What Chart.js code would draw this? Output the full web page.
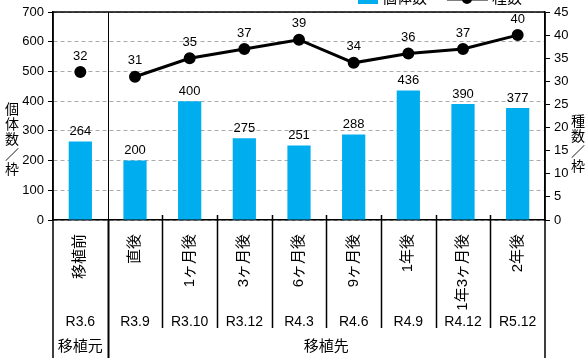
<!DOCTYPE html>
<html>
<head>
<meta charset="utf-8">
<script src="https://cdn.jsdelivr.net/npm/chart.js@4"></script>
<style>
  html, body { margin: 0; padding: 0; background: #fff; }
  #wrap { width: 587px; height: 358px; }
</style>
</head>
<body>
<div id="wrap"><canvas id="chart" width="587" height="358"></canvas></div>
<script>
// DATA
const categories = ["移植前", "直後", "1ヶ月後", "3ヶ月後", "6ヶ月後", "9ヶ月後", "1年後", "1年3ヶ月後", "2年後"];
const dates = ["R3.6", "R3.9", "R3.10", "R3.12", "R4.3", "R4.6", "R4.9", "R4.12", "R5.12"];
const groupNames = ["移植元", "移植先"];
const groupOf = [0, 1, 1, 1, 1, 1, 1, 1, 1];
const individuals = [264, 200, 400, 275, 251, 288, 436, 390, 377];
const species = [32, 31, 35, 37, 39, 34, 36, 37, 40];
const seriesNames = ["個体数", "種数"];
const leftTitle = ["個", "体", "数", "／", "枠"];
const rightTitle = ["種", "数", "／", "枠"];

const NUM = "'Liberation Sans', Arial, 'Noto Sans CJK JP', sans-serif";
const JP = "'Noto Sans CJK JP', sans-serif";
const BLUE = "#00AEEF";

// extra drawing: value labels, frame, bottom rows, titles, legend
const overlay = {
  id: "overlay",
  afterDraw(chart) {
    const ctx = chart.ctx;
    const a = chart.chartArea;
    const x = chart.scales.x;
    const H = chart.height;
    ctx.save();
    ctx.fillStyle = "#000";
    ctx.textAlign = "center";
    ctx.textBaseline = "middle";

    // value labels (dataset 0 = line, dataset 1 = bars)
    ctx.font = "13px " + NUM;
    chart.getDatasetMeta(1).data.forEach((el, i) => {
      ctx.fillText(individuals[i], el.x, el.y - 10);
    });
    chart.getDatasetMeta(0).data.forEach((el, i) => {
      ctx.fillText(species[i], el.x, el.y - 16);
    });

    // frame
    ctx.strokeStyle = "#000";
    ctx.lineWidth = 1.5;
    ctx.beginPath();
    ctx.moveTo(a.left, a.top); ctx.lineTo(a.right, a.top);
    ctx.moveTo(a.left, a.top); ctx.lineTo(a.left, H);
    ctx.moveTo(a.right, a.top); ctx.lineTo(a.right, H);
    ctx.stroke();

    const edge = i => (x.getPixelForValue(i) + x.getPixelForValue(i + 1)) / 2;
    // group separator
    const gx = Math.round(edge(0)) + 0.5;
    ctx.lineWidth = 1;
    ctx.beginPath(); ctx.moveTo(gx, a.top); ctx.lineTo(gx, a.bottom); ctx.stroke();
    ctx.lineWidth = 2;
    ctx.beginPath(); ctx.moveTo(gx, a.bottom); ctx.lineTo(gx, H); ctx.stroke();
    // category separators under the axis
    ctx.lineWidth = 1.5;
    ctx.beginPath();
    for (let i = 1; i < categories.length - 1; i++) {
      const bx = Math.round(edge(i)) + 0.5;
      ctx.moveTo(bx, a.bottom - 5); ctx.lineTo(bx, a.bottom + 108);
    }
    ctx.stroke();

    // date row
    ctx.font = "14px " + NUM;
    dates.forEach((d, i) => ctx.fillText(d, x.getPixelForValue(i), a.bottom + 102));

    // group row
    ctx.font = "15px " + JP;
    groupNames.forEach((g, k) => {
      const idx = groupOf.map((v, i) => v === k ? i : -1).filter(i => i >= 0);
      const cx = (x.getPixelForValue(idx[0]) + x.getPixelForValue(idx[idx.length - 1])) / 2;
      ctx.fillText(g, cx, a.bottom + 125);
    });

    // axis titles (stacked characters)
    ctx.font = "14px " + JP;
    leftTitle.forEach((c, i) => ctx.fillText(c, 12, 109 + i * 15));
    rightTitle.forEach((c, i) => ctx.fillText(c, 578, 121 + i * 15));

    // legend (cut by the top edge)
    ctx.fillStyle = BLUE;
    ctx.fillRect(358, -4, 20, 8);
    ctx.fillStyle = "#000";
    ctx.textAlign = "left";
    ctx.font = "15px " + JP;
    ctx.fillText(seriesNames[0], 382, -3);
    ctx.lineWidth = 3;
    ctx.beginPath(); ctx.moveTo(447, -1); ctx.lineTo(488, -1); ctx.stroke();
    ctx.beginPath(); ctx.arc(467, -1, 5, 0, Math.PI * 2); ctx.fill();
    ctx.fillText(seriesNames[1], 492, -3);
    ctx.restore();
  }
};

new Chart(document.getElementById("chart"), {
  data: {
    labels: categories,
    datasets: [
      {
        type: "line",
        label: seriesNames[1],
        data: species,
        yAxisID: "y1",
        order: 0,
        borderColor: "#000",
        borderWidth: 3,
        pointRadius: 4.5,
        pointBackgroundColor: "#000",
        pointBorderColor: "#000",
        segment: {
          borderColor: c => c.p0DataIndex === 0 ? "rgba(0,0,0,0)" : "#000"
        }
      },
      {
        type: "bar",
        label: seriesNames[0],
        data: individuals,
        yAxisID: "y",
        order: 1,
        backgroundColor: BLUE,
        categoryPercentage: 0.5,
        barPercentage: 0.85
      }
    ]
  },
  options: {
    responsive: false,
    devicePixelRatio: 1,
    animation: false,
    layout: { padding: { top: 12, left: 0, right: 0, bottom: 0 } },
    plugins: { legend: { display: false }, tooltip: { enabled: false } },
    scales: {
      x: {
        offset: true,
        grid: { display: false },
        border: { display: true, color: "#000", width: 1.5 },
        ticks: {
          autoSkip: false,
          minRotation: 90,
          maxRotation: 90,
          padding: 6,
          color: "#000",
          font: { family: NUM, size: 15 }
        },
        afterFit: s => { s.height = 138; }
      },
      y: {
        position: "left",
        min: 0,
        max: 700,
        ticks: { stepSize: 100, padding: 4, color: "#000", font: { family: NUM, size: 13 } },
        grid: { color: "#aaa", lineWidth: 1, tickColor: "#000", tickLength: 5, tickBorderDash: [] },
        border: { display: true, color: "#000", width: 1.5, dash: [4, 3] },
        afterFit: s => { s.width = 53; }
      },
      y1: {
        position: "right",
        min: 0,
        max: 45,
        ticks: { stepSize: 5, padding: 4, color: "#000", font: { family: NUM, size: 13 } },
        grid: { drawOnChartArea: false, tickColor: "#000", tickLength: 5 },
        border: { display: true, color: "#000", width: 1.5 },
        afterFit: s => { s.width = 42; }
      }
    }
  },
  plugins: [overlay]
});
</script>
</body>
</html>
